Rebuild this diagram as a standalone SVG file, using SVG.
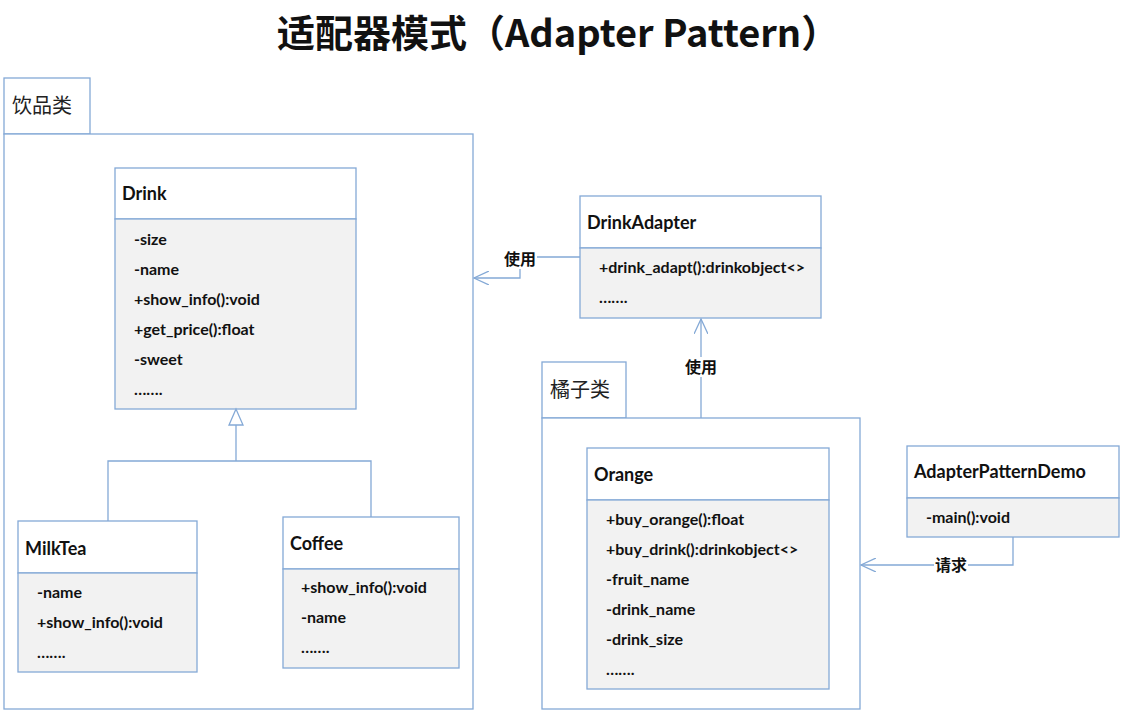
<svg xmlns="http://www.w3.org/2000/svg" width="1121" height="711" viewBox="0 0 1121 711">
<style>
.pk{fill:#ffffff;stroke:#84a9d6;stroke-width:1.3}
.hd{fill:#ffffff;stroke:#84a9d6;stroke-width:1.3}
.bd{fill:#f2f2f2;stroke:#84a9d6;stroke-width:1.3}
.ln{fill:none;stroke:#84a9d6;stroke-width:1.3}
.t{font-family:Lato,"Open Sans","Liberation Sans","Noto Sans CJK SC",sans-serif;font-weight:bold;font-size:18px;fill:#111}
.m{font-family:Lato,"Open Sans","Liberation Sans","Noto Sans CJK SC",sans-serif;font-weight:bold;font-size:16px;fill:#111}
.cn{font-family:"Noto Sans CJK SC",sans-serif;font-size:20px;fill:#222}
.lb{font-family:"Noto Sans CJK SC",sans-serif;font-weight:bold;font-size:16px;fill:#111}
.title{font-family:"Noto Sans CJK SC",sans-serif;font-weight:bold;font-size:38px;fill:#111}
</style>
<defs>
<marker id="open" viewBox="0 0 16 14" refX="15" refY="7" markerWidth="16" markerHeight="14" markerUnits="userSpaceOnUse" orient="auto">
<path d="M0,0 L15,7 L0,14" fill="none" stroke="#84a9d6" stroke-width="1.3"/>
</marker>
</defs>
<rect width="1121" height="711" fill="#ffffff"/>
<text class="title" x="277" y="47">适配器模式（Adapter Pattern）</text>

<g id="pkg-drinks">
<rect class="pk" x="4" y="78" width="86" height="56"/>
<rect class="pk" x="4" y="134" width="469" height="575"/>
<text class="cn" x="12" y="113">饮品类</text>
</g>

<g id="pkg-orange">
<rect class="pk" x="542" y="362" width="84" height="56"/>
<rect class="pk" x="542" y="418" width="318" height="291"/>
<text class="cn" x="550" y="397">橘子类</text>
</g>

<g id="Drink">
<rect class="hd" x="115" y="168" width="241" height="51"/>
<rect class="bd" x="115" y="219" width="241" height="190"/>
<text class="t" x="122" y="200">Drink</text>
<text class="m" x="134" y="245">-size</text>
<text class="m" x="134" y="275">-name</text>
<text class="m" x="134" y="305">+show_info():void</text>
<text class="m" x="134" y="335">+get_price():float</text>
<text class="m" x="134" y="365">-sweet</text>
<text class="m" x="134" y="395">…….</text>
</g>

<g id="MilkTea">
<rect class="hd" x="18" y="521" width="179" height="52"/>
<rect class="bd" x="18" y="573" width="179" height="99"/>
<text class="t" x="25" y="555">MilkTea</text>
<text class="m" x="37" y="598">-name</text>
<text class="m" x="37" y="628">+show_info():void</text>
<text class="m" x="37" y="658">…….</text>
</g>

<g id="Coffee">
<rect class="hd" x="283" y="517" width="176" height="52"/>
<rect class="bd" x="283" y="569" width="176" height="99"/>
<text class="t" x="290" y="550">Coffee</text>
<text class="m" x="301" y="593">+show_info():void</text>
<text class="m" x="301" y="623">-name</text>
<text class="m" x="301" y="653">…….</text>
</g>

<g id="DrinkAdapter">
<rect class="hd" x="580" y="196" width="241" height="52"/>
<rect class="bd" x="580" y="248" width="241" height="70"/>
<text class="t" x="587" y="229">DrinkAdapter</text>
<text class="m" x="599" y="273">+drink_adapt():drinkobject&lt;&gt;</text>
<text class="m" x="599" y="303">…….</text>
</g>

<g id="Orange">
<rect class="hd" x="587" y="448" width="242" height="52"/>
<rect class="bd" x="587" y="500" width="242" height="189"/>
<text class="t" x="594" y="481">Orange</text>
<text class="m" x="606" y="525">+buy_orange():float</text>
<text class="m" x="606" y="555">+buy_drink():drinkobject&lt;&gt;</text>
<text class="m" x="606" y="585">-fruit_name</text>
<text class="m" x="606" y="615">-drink_name</text>
<text class="m" x="606" y="645">-drink_size</text>
<text class="m" x="606" y="675">…….</text>
</g>

<g id="AdapterPatternDemo">
<rect class="hd" x="907" y="446" width="212" height="52"/>
<rect class="bd" x="907" y="498" width="212" height="39"/>
<text class="t" x="914" y="478">AdapterPatternDemo</text>
<text class="m" x="926" y="523">-main():void</text>
</g>

<g id="connectors">
<path class="ln" d="M236,425 V461 M108,521 V461 H371 V517"/>
<path d="M236,409 L229,425 L243,425 Z" fill="#ffffff" stroke="#84a9d6" stroke-width="1.3"/>
<path class="ln" d="M580,257 H520 V278 H474" marker-end="url(#open)"/>
<rect x="503" y="249" width="34" height="20" fill="#ffffff"/>
<text class="lb" x="520" y="265" text-anchor="middle">使用</text>
<path class="ln" d="M701,418 V319" marker-end="url(#open)"/>
<rect x="684" y="357" width="34" height="20" fill="#ffffff"/>
<text class="lb" x="701" y="373" text-anchor="middle">使用</text>
<path class="ln" d="M1013,537 V565 H861" marker-end="url(#open)"/>
<rect x="934" y="555" width="34" height="20" fill="#ffffff"/>
<text class="lb" x="951" y="571" text-anchor="middle">请求</text>
</g>
</svg>
